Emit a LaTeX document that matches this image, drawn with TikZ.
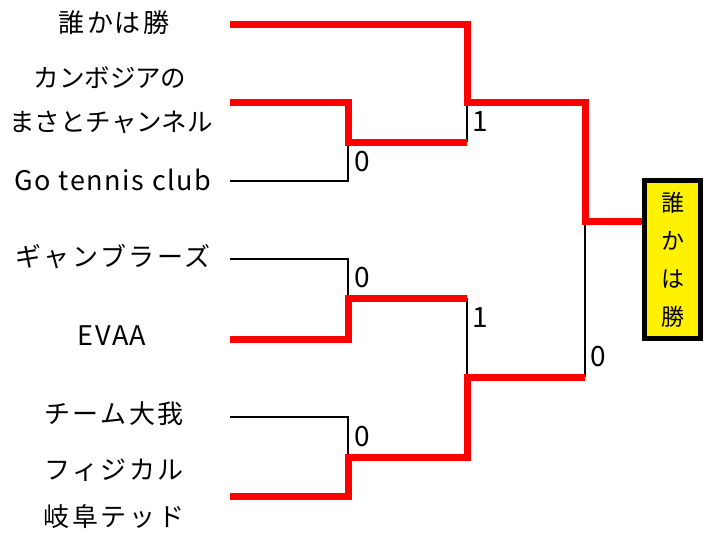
\documentclass[tikz,border=0pt]{standalone}
\usepackage{fontspec}
\setmainfont{Noto Sans CJK JP}
\newfontfamily\latinwide[LetterSpace=6]{Noto Sans CJK JP}
\newfontfamily\cjkwide[LetterSpace=10]{Noto Sans CJK JP}
\begin{document}
\begin{tikzpicture}[x=1pt,y=-1pt,
  team/.style={font=\cjkwide\fontsize{26}{30}\selectfont, inner sep=0pt, anchor=center},
  nteam/.style={font=\fontsize{25.5}{30}\selectfont, inner sep=0pt, anchor=center},
  lteam/.style={font=\latinwide\fontsize{27}{30}\selectfont, inner sep=0pt, anchor=center},
  score/.style={font=\fontsize{28}{30}\selectfont, inner sep=0pt, anchor=west},
  lose/.style={draw=black, line width=2.5pt, line join=miter},
  win/.style={draw=red, line width=7pt, line join=miter},
  champ/.style={draw=black, line width=5pt, fill=yellow, minimum width=56pt, minimum height=158pt, inner sep=0pt,
     align=center, font=\fontsize{23}{38}\selectfont}]
\useasboundingbox (0,0) rectangle (704,533);
% team names
\node[team] (n1) at (114,23) {誰かは勝};
\node[nteam] (n2a) at (110,78) {カンボジアの};
\node[nteam] (n2b) at (111,122) {まさとチャンネル};
\node[lteam] (n3) at (113,180) {Go tennis club};
\node[team] (n4) at (113,257) {ギャンブラーズ};
\node[lteam] (n5) at (112,336) {EVAA};
\node[team] (n6) at (114,414) {チーム大我};
\node[team] (n7a) at (114,470) {フィジカル};
\node[team] (n7b) at (114,517) {岐阜テッド};
% coordinates
\coordinate (s1) at (230,24);
\coordinate (s2) at (230,102);
\coordinate (s3) at (230,181);
\coordinate (s4) at (230,259);
\coordinate (s5) at (230,339);
\coordinate (s6) at (230,417);
\coordinate (s7) at (230,496);
\coordinate (m1) at (348,142);
\coordinate (m2) at (348,298);
\coordinate (m3) at (348,457);
\coordinate (q1) at (467,102);
\coordinate (q2) at (467,377);
\coordinate (f) at (585,221);
% winner box
\node[champ] (w) at (672.5,259.5) {誰\\か\\は\\勝};
% losing lines
\draw[lose] (s3) -| (m1);
\draw[lose] (s4) -| (m2);
\draw[lose] (s6) -| (m3);
\draw[lose] (m2 -| q1) -- (q2);
\draw[lose] (m1 -| q1) -- (q1);
\draw[lose] (f) -- (q2 -| f);
% winning lines
\draw[win] (s1) -| (q1) -- (q1 -| f) -- (f) -- (f -| w.west);
\draw[win] (s2) -- ([xshift=4pt]s2 -| m1);
\draw[win] (s2 -| m1) -- (m1) -- (m1 -| q1);
\draw[win] (s5) -| (m2) -- (m2 -| q1);
\draw[win] (s7) -| (m3) -| (q2) -- (q2 -| f);
% scores
\node[score] (c1) at (354,162) {0};
\node[score] (c2) at (472,122) {1};
\node[score] (c3) at (354,278) {0};
\node[score] (c4) at (472,318) {1};
\node[score] (c5) at (354,437) {0};
\node[score] (c6) at (590,357) {0};
\end{tikzpicture}
\end{document}
